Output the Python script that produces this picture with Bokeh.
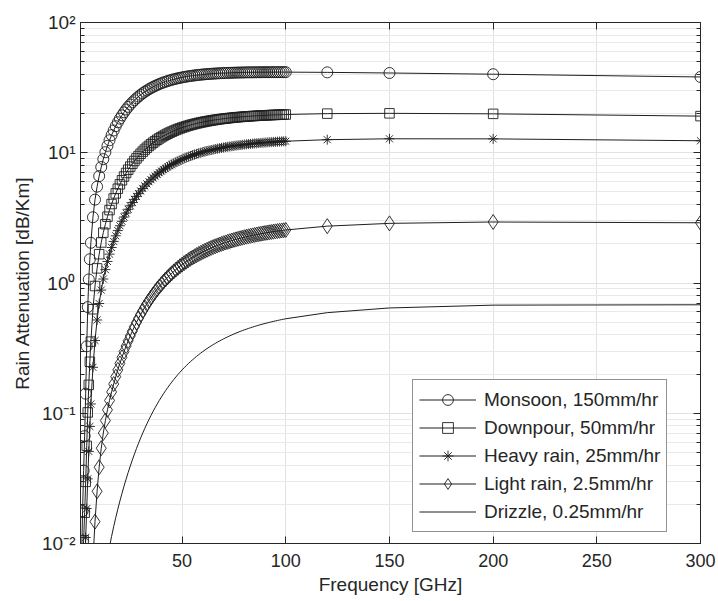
from bokeh.plotting import figure
from bokeh.models import (LogAxis, LinearAxis, FixedTicker, CustomJSTickFormatter,
                          Legend, LegendItem)
from bokeh.embed import file_html
from bokeh.resources import INLINE

# ---------------- data ----------------
freq = [1, 1.5, 2, 2.5, 3, 3.5, 4, 4.5, 5, 5.5, 6,
        7, 8, 9, 10, 11, 12, 13, 14, 15, 16, 17, 18, 19, 20,
        21, 22, 23, 24, 25, 26, 27, 28, 29, 30, 31, 32, 33, 34, 35, 36, 37, 38, 39, 40,
        41, 42, 43, 44, 45, 46, 47, 48, 49, 50, 51, 52, 53, 54, 55, 56, 57, 58, 59, 60,
        61, 62, 63, 64, 65, 66, 67, 68, 69, 70, 71, 72, 73, 74, 75, 76, 77, 78, 79, 80,
        81, 82, 83, 84, 85, 86, 87, 88, 89, 90, 91, 92, 93, 94, 95, 96, 97, 98, 99, 100,
        120, 150, 200, 300]

monsoon = [0.003327, 0.00729, 0.01772, 0.03632, 0.06674, 0.1413, 0.3263, 0.6534, 1.065, 1.522, 2.035,
           3.198, 4.367, 5.493, 6.620, 7.767, 8.929, 10.10, 11.29, 12.47, 13.65, 14.83, 16.00, 17.14, 18.27,
           19.37, 20.43, 21.48, 22.49, 23.46, 24.40, 25.31, 26.20, 27.03, 27.85, 28.63, 29.38, 30.07, 30.75,
           31.40, 32.00, 32.59, 33.16, 33.68, 34.18,
           34.65, 35.09, 35.53, 35.92, 36.32, 36.66, 37.00, 37.32, 37.60, 37.90,
           38.14, 38.40, 38.64, 38.85, 39.05, 39.24, 39.43, 39.58, 39.74, 39.88,
           40.03, 40.15, 40.26, 40.38, 40.47, 40.58, 40.66, 40.76, 40.83, 40.90,
           40.95, 41.02, 41.07, 41.12, 41.17, 41.22, 41.27, 41.30, 41.33, 41.36,
           41.40, 41.42, 41.43, 41.44, 41.47, 41.48, 41.50, 41.51, 41.53, 41.54,
           41.54, 41.55, 41.55, 41.57, 41.57, 41.57, 41.58, 41.58, 41.57, 41.58,
           41.41, 40.96, 40.09, 38.18]

downpour = [0.001148, 0.00238, 0.005492, 0.01060, 0.01724, 0.02973, 0.05620, 0.1015, 0.1652, 0.2485, 0.3548,
            0.6286, 0.9480, 1.295, 1.664, 2.047, 2.436, 2.828, 3.228, 3.629, 4.039, 4.456, 4.873, 5.297, 5.722,
            6.147, 6.569, 6.992, 7.412, 7.828, 8.238, 8.644, 9.045, 9.436, 9.823, 10.20, 10.57, 10.93, 11.28,
            11.62, 11.95, 12.27, 12.59, 12.89, 13.18,
            13.46, 13.74, 14.00, 14.25, 14.50, 14.74, 14.97, 15.18, 15.39, 15.60,
            15.78, 15.97, 16.15, 16.32, 16.48, 16.64, 16.79, 16.93, 17.07, 17.20,
            17.33, 17.45, 17.56, 17.68, 17.78, 17.89, 17.98, 18.08, 18.17, 18.26,
            18.33, 18.41, 18.48, 18.56, 18.63, 18.70, 18.76, 18.82, 18.88, 18.93,
            18.99, 19.04, 19.08, 19.13, 19.17, 19.22, 19.26, 19.30, 19.34, 19.37,
            19.41, 19.44, 19.47, 19.51, 19.53, 19.56, 19.59, 19.61, 19.64, 19.66,
            19.97, 20.07, 19.89, 19.11]

heavy = [0.000586, 0.001175, 0.002622, 0.004874, 0.007339, 0.01112, 0.01853, 0.03135, 0.05094, 0.07917, 0.1178,
         0.2252, 0.3616, 0.5202, 0.6960, 0.8822, 1.073, 1.267, 1.464, 1.666, 1.873, 2.085, 2.303, 2.525, 2.751,
         2.979, 3.210, 3.444, 3.680, 3.916, 4.152, 4.387, 4.624, 4.857, 5.090, 5.320, 5.547, 5.769, 5.990,
         6.208, 6.420, 6.628, 6.834, 7.032, 7.228,
         7.416, 7.600, 7.783, 7.956, 8.128, 8.292, 8.453, 8.608, 8.756, 8.905,
         9.043, 9.181, 9.314, 9.441, 9.563, 9.683, 9.798, 9.907, 10.02, 10.12,
         10.22, 10.32, 10.41, 10.50, 10.58, 10.67, 10.75, 10.83, 10.90, 10.97,
         11.04, 11.11, 11.17, 11.23, 11.29, 11.35, 11.41, 11.46, 11.51, 11.56,
         11.61, 11.66, 11.70, 11.74, 11.79, 11.82, 11.86, 11.90, 11.94, 11.97,
         12.01, 12.04, 12.07, 12.10, 12.13, 12.16, 12.19, 12.21, 12.24, 12.26,
         12.60, 12.80, 12.78, 12.36]

light = [6.29e-5, 1.126e-4, 2.25e-4, 3.69e-4, 4.30e-4, 4.24e-4, 4.64e-4, 6.33e-4, 0.001024, 0.001773, 0.003029,
         0.007439, 0.01472, 0.02516, 0.03851, 0.05391, 0.07051, 0.08792, 0.1062, 0.1254, 0.1458, 0.1676, 0.1908,
         0.2153, 0.2413,
         0.2688, 0.2976, 0.3279, 0.3596, 0.3925, 0.4264, 0.4617, 0.4980, 0.5351, 0.5731,
         0.6118, 0.6514, 0.6914, 0.7320, 0.7731, 0.8141, 0.8555, 0.8974, 0.9391, 0.9809,
         1.022, 1.064, 1.105, 1.146, 1.187, 1.227, 1.267, 1.307, 1.346, 1.384,
         1.422, 1.459, 1.496, 1.533, 1.568, 1.603, 1.637, 1.670, 1.703, 1.736,
         1.767, 1.798, 1.828, 1.858, 1.887, 1.915, 1.943, 1.970, 1.996, 2.022,
         2.047, 2.071, 2.095, 2.118, 2.141, 2.163, 2.185, 2.206, 2.226, 2.246,
         2.266, 2.284, 2.303, 2.321, 2.338, 2.356, 2.372, 2.388, 2.404, 2.420,
         2.434, 2.449, 2.463, 2.477, 2.491, 2.504, 2.516, 2.529, 2.541, 2.553,
         2.732, 2.870, 2.940, 2.900]

drizzle = [6.76e-6, 1.08e-5, 1.93e-5, 2.79e-5, 2.52e-5, 1.62e-5, 1.16e-5, 1.28e-5, 2.06e-5, 3.97e-5, 7.79e-5,
           2.458e-4, 5.99e-4, 0.001216, 0.002131, 0.003293, 0.004632, 0.006103, 0.007700, 0.009443, 0.01136,
           0.01347, 0.01580, 0.01836, 0.02118,
           0.02425, 0.02759, 0.03121, 0.03514, 0.03933, 0.04381, 0.04856, 0.05362, 0.05894, 0.06452,
           0.07039, 0.07650, 0.08284, 0.08944, 0.09627, 0.1033, 0.1105, 0.1179, 0.1254, 0.1331,
           0.1409, 0.1489, 0.1570, 0.1652, 0.1734, 0.1816, 0.1899, 0.1984, 0.2068, 0.2152,
           0.2236, 0.2320, 0.2404, 0.2487, 0.2570, 0.2653, 0.2735, 0.2816, 0.2897, 0.2978,
           0.3057, 0.3135, 0.3213, 0.3289, 0.3365, 0.3439, 0.3512, 0.3584, 0.3656, 0.3726,
           0.3795, 0.3863, 0.3929, 0.3995, 0.4060, 0.4122, 0.4185, 0.4246, 0.4306, 0.4365,
           0.4422, 0.4478, 0.4534, 0.4588, 0.4642, 0.4694, 0.4744, 0.4794, 0.4843, 0.4891,
           0.4937, 0.4983, 0.5028, 0.5072, 0.5114, 0.5156, 0.5197, 0.5237, 0.5277, 0.5315,
           0.5921, 0.6432, 0.6761, 0.6804]

series_labels = ["Monsoon, 150mm/hr", "Downpour, 50mm/hr", "Heavy rain, 25mm/hr",
                 "Light rain, 2.5mm/hr", "Drizzle, 0.25mm/hr"]

x_ticks = [50, 100, 150, 200, 250, 300]
y_ticks = [0.01, 0.1, 1, 10, 100]
y_tick_labels = ["10\u207b\u00b2", "10\u207b\u00b9", "10\u2070", "10\u00b9", "10\u00b2"]
y_minor = [m * 10.0 ** e for e in range(-2, 2) for m in range(2, 10)]

# ---------------- styling ----------------
FONT = "Liberation Sans"
TXT = "#262626"
LINE = "#1e1e1e"
GRID = "#e2e2e2"

p = figure(width=716, height=598, x_range=(1, 300), y_range=(0.01, 100),
           y_axis_type="log", output_backend="svg", toolbar_location=None, tools="",
           min_border_left=80, min_border_right=16, min_border_top=22, min_border_bottom=55)
p.background_fill_color = "white"
p.border_fill_color = "white"
p.outline_line_color = TXT
p.outline_line_width = 1

# bottom axis
xa = p.xaxis[0]
xa.ticker = FixedTicker(ticks=x_ticks, minor_ticks=[])
xa.major_tick_in = 7
xa.major_tick_out = 0
xa.minor_tick_in = 0
xa.minor_tick_out = 0
xa.axis_line_color = TXT
xa.major_tick_line_color = TXT
xa.major_label_text_font = FONT
xa.major_label_text_font_size = "18px"
xa.major_label_text_color = TXT
xa.major_label_standoff = 10
xa.axis_label = "Frequency [GHz]"
xa.axis_label_text_font = FONT
xa.axis_label_text_font_size = "19px"
xa.axis_label_text_font_style = "normal"
xa.axis_label_text_color = TXT
xa.axis_label_standoff = 4

# left axis
ya = p.yaxis[0]
ya.ticker = FixedTicker(ticks=y_ticks, minor_ticks=y_minor)
ya.major_label_overrides = {t: s for t, s in zip(y_ticks, y_tick_labels)}
ya.major_tick_in = 7
ya.major_tick_out = 0
ya.minor_tick_in = 4
ya.minor_tick_out = 0
ya.axis_line_color = TXT
ya.major_tick_line_color = TXT
ya.minor_tick_line_color = TXT
ya.major_label_text_font = FONT
ya.major_label_text_font_size = "19px"
ya.major_label_text_color = TXT
ya.major_label_standoff = 5
ya.axis_label = "Rain Attenuation [dB/Km]"
ya.axis_label_text_font = FONT
ya.axis_label_text_font_size = "19px"
ya.axis_label_text_font_style = "normal"
ya.axis_label_text_color = TXT
ya.axis_label_standoff = 6

# box axes (top / right), ticks only
blank = CustomJSTickFormatter(code="return ''")
top = LinearAxis(ticker=FixedTicker(ticks=x_ticks, minor_ticks=[]), formatter=blank,
                 major_tick_in=7, major_tick_out=0, minor_tick_in=0, minor_tick_out=0,
                 axis_line_color=TXT, major_tick_line_color=TXT,
                 major_label_text_font_size="1px", major_label_standoff=0)
p.add_layout(top, "above")
right = LogAxis(ticker=FixedTicker(ticks=y_ticks, minor_ticks=y_minor), formatter=blank,
                major_tick_in=7, major_tick_out=0, minor_tick_in=4, minor_tick_out=0,
                axis_line_color=TXT, major_tick_line_color=TXT, minor_tick_line_color=TXT,
                major_label_text_font_size="1px", major_label_standoff=0)
p.add_layout(right, "right")

# grids
p.xgrid.grid_line_color = GRID
p.ygrid.grid_line_color = GRID
p.ygrid.minor_grid_line_color = "#e9e9e9"

# series
items = []
specs = [(monsoon, "circle", 11), (downpour, "square", 9.5),
         (heavy, "asterisk", 10), (light, "diamond", 15)]
for (vals, marker, size), lab in zip(specs, series_labels[:4]):
    lr = p.line(freq, vals, line_color=LINE, line_width=1)
    sr = p.scatter(freq, vals, marker=marker, size=size, fill_color=None,
                   line_color=LINE, line_width=0.9)
    items.append(LegendItem(label=lab, renderers=[lr, sr]))
dr = p.line(freq, drizzle, line_color=LINE, line_width=1)
items.append(LegendItem(label=series_labels[4], renderers=[dr]))

legend = Legend(items=items, location=(332, 11), margin=0, padding=6, spacing=1,
                glyph_width=57, glyph_height=27, label_height=20, label_standoff=8,
                label_text_font=FONT, label_text_font_size="19px", label_text_color=TXT,
                border_line_color=TXT, border_line_width=1, background_fill_color="white",
                background_fill_alpha=1)
p.add_layout(legend)

open("out.html", "w").write(file_html(p, INLINE))
